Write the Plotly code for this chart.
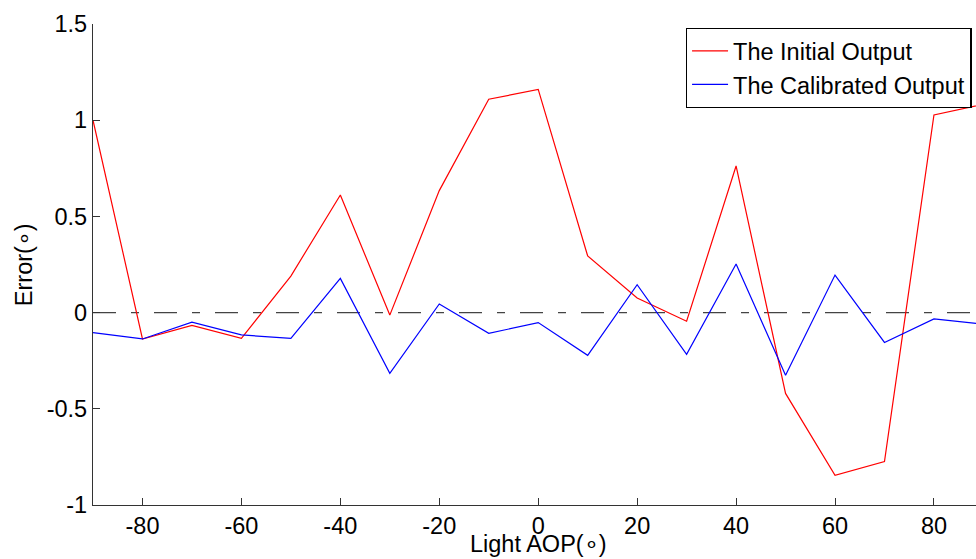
import plotly.graph_objects as go

# Light angle of polarization (degrees)
aop = [-90, -80, -70, -60, -50, -40, -30, -20, -10, 0, 10, 20, 30, 40, 50, 60, 70, 80, 90]

# Orientation error before and after calibration (degrees)
initial_err = [1.00, -0.137, -0.066, -0.134, 0.19, 0.611, -0.013, 0.634, 1.109, 1.16,
               0.294, 0.076, -0.045, 0.762, -0.42, -0.846, -0.774, 1.027, 1.083]
calibrated_err = [-0.104, -0.137, -0.05, -0.116, -0.134, 0.178, -0.316, 0.045, -0.108, -0.052,
                  -0.222, 0.145, -0.217, 0.253, -0.326, 0.195, -0.155, -0.033, -0.06]

zero_x = [-90, 90]
zero_y = [0, 0]

x_ticks = [-80, -60, -40, -20, 0, 20, 40, 60, 80]
x_tick_text = ["-80", "-60", "-40", "-20", "0", "20", "40", "60", "80"]
y_ticks = [-1, -0.5, 0, 0.5, 1, 1.5]
y_tick_text = ["-1", "-0.5", "0", "0.5", "1", "1.5"]

FONT = "Liberation Sans, Arial, sans-serif"
SIZE = 23.5

fig = go.Figure()

# zero reference (dash-dot)
fig.add_trace(go.Scatter(
    x=zero_x, y=zero_y, mode="lines", showlegend=False, hoverinfo="skip",
    line=dict(color="#444444", width=1.4, dash="23px,15px,8px,15px"),
))

fig.add_trace(go.Scatter(
    x=aop, y=initial_err, mode="lines", name="The Initial Output",
    line=dict(color="#FF0000", width=1.2),
))
fig.add_trace(go.Scatter(
    x=aop, y=calibrated_err, mode="lines", name="The Calibrated Output",
    line=dict(color="#0000FF", width=1.2),
))

axis_common = dict(
    ticks="inside", ticklen=7, tickwidth=1, tickcolor="#333333",
    showline=True, linecolor="#333333", linewidth=1.2,
    showgrid=False, zeroline=False, mirror=False,
    tickfont=dict(family=FONT, size=SIZE, color="black"),
)

fig.update_layout(
    width=976, height=559,
    margin=dict(l=93, r=0, t=24, b=54, pad=0),
    paper_bgcolor="white", plot_bgcolor="white",
    font=dict(family=FONT, size=SIZE, color="black"),
    xaxis=dict(range=[-90, 88.5], tickvals=x_ticks, ticktext=x_tick_text, **axis_common),
    yaxis=dict(range=[-1, 1.5], tickvals=y_ticks, ticktext=y_tick_text, **axis_common),
    legend=dict(
        x=0.6713, y=0.992, xanchor="left", yanchor="top",
        bgcolor="white", bordercolor="black", borderwidth=1.3,
        font=dict(family=FONT, size=SIZE, color="black"),
        itemwidth=36, tracegroupgap=0,
    ),
    annotations=[
        dict(text="Light AOP(∘)", xref="paper", yref="paper",
             x=0.5045, y=-0.0815, xanchor="center", yanchor="middle",
             showarrow=False, font=dict(family=FONT, size=SIZE, color="black")),
        dict(text="Error(∘)", xref="paper", yref="paper",
             x=-0.0785, y=0.5, xanchor="center", yanchor="middle", textangle=-90,
             showarrow=False, font=dict(family=FONT, size=SIZE, color="black")),
    ],
)

fig.write_html("out.html")
